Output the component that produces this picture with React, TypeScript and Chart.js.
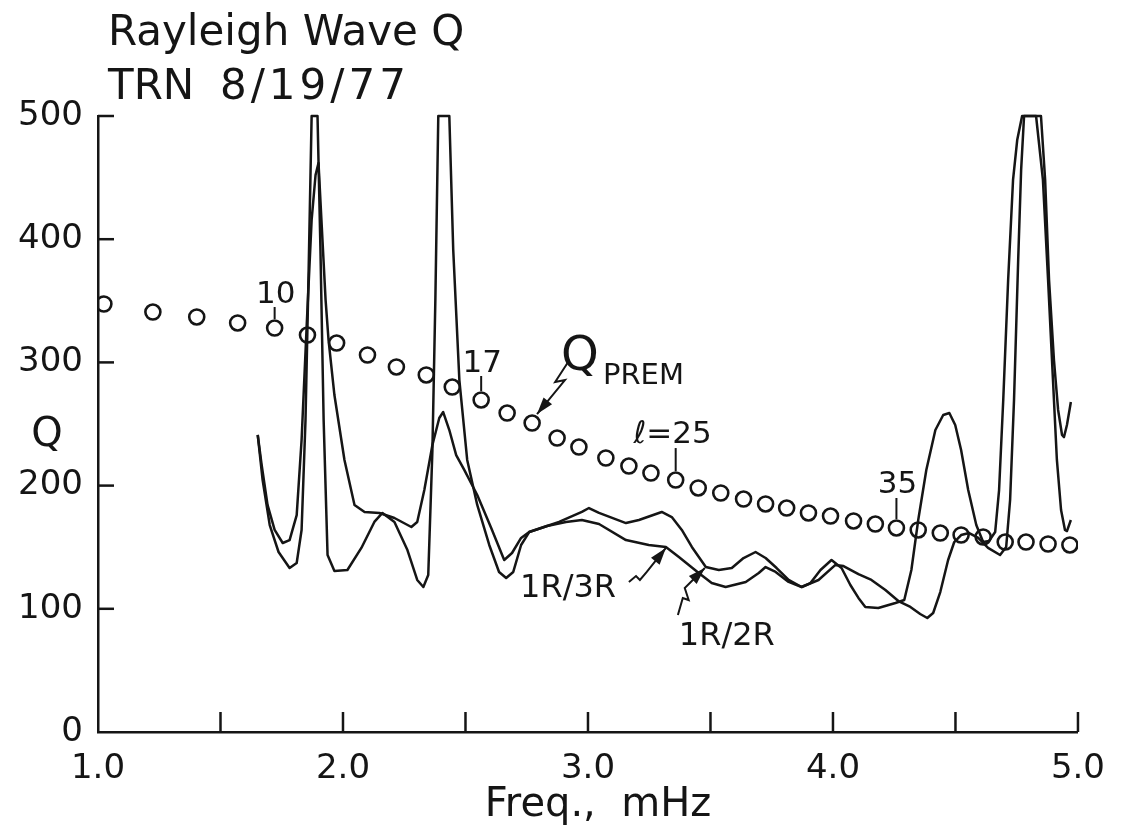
import React, { useEffect, useRef } from 'react';
import { Chart, registerables } from 'chart.js';

Chart.register(...registerables);

// ---------- data ----------
const premDegreeStart = 6;
const premFreq = [
  1.024, 1.224, 1.403, 1.570, 1.721, 1.855, 1.974, 2.100, 2.218, 2.340, 2.446, 2.564,
  2.670, 2.772, 2.874, 2.963, 3.073, 3.167, 3.257, 3.358, 3.450, 3.542, 3.635, 3.725,
  3.811, 3.900, 3.990, 4.084, 4.173, 4.259, 4.348, 4.438, 4.523, 4.613, 4.703, 4.788,
  4.878, 4.967,
];
const premQ = [
  347.4, 340.9, 336.9, 332.0, 327.9, 322.2, 315.7, 306.0, 296.3, 289.8, 280.0, 269.5,
  258.9, 250.8, 238.6, 231.3, 222.4, 215.9, 210.2, 204.5, 198.1, 194.0, 189.1, 185.1,
  181.8, 177.8, 175.3, 171.3, 168.8, 165.6, 164.0, 161.5, 159.9, 158.3, 154.2, 154.2,
  152.6, 151.8,
];

const curveAFreq = [
  1.652, 1.672, 1.701, 1.737, 1.782, 1.811, 1.831, 1.847, 1.859, 1.872, 1.896, 1.908,
  1.921, 1.937, 1.965, 2.018, 2.075, 2.128, 2.161, 2.210, 2.263, 2.303, 2.328, 2.348,
  2.365, 2.377, 2.389, 2.434, 2.450, 2.475, 2.507, 2.548, 2.597, 2.637, 2.666, 2.695,
  2.727, 2.760, 2.833, 2.910, 2.975, 3.045, 3.155, 3.248, 3.318, 3.371, 3.452, 3.505,
  3.562, 3.644, 3.697, 3.725, 3.766, 3.819, 3.872, 3.941, 4.010, 4.043, 4.104, 4.157,
  4.214, 4.267, 4.316, 4.356, 4.385, 4.409, 4.438, 4.470, 4.495, 4.523, 4.556, 4.593,
  4.633, 4.682, 4.707, 4.723, 4.739, 4.756, 4.768, 4.780, 4.829, 4.857, 4.878, 4.898,
  4.914, 4.931, 4.947, 4.955, 4.971,
];
const curveAQ = [
  241.1, 204.5, 168.0, 146.1, 133.1, 137.2, 164.0, 253.2, 366.9, 500, 500, 391.2,
  253.2, 143.7, 130.7, 131.5, 149.4, 170.5, 177.8, 170.5, 147.7, 123.4, 117.7, 127.4,
  228.9, 350.6, 500, 500, 391.2, 285.7, 220.8, 184.3, 151.8, 129.9, 125.0, 129.9,
  151.8, 162.3, 167.2, 170.5, 172.1, 168.8, 155.8, 151.8, 150.2, 142.0, 129.1, 120.9,
  117.7, 121.8, 129.1, 133.9, 129.9, 121.8, 117.7, 123.4, 135.6, 134.7, 128.2, 123.4,
  115.3, 106.3, 101.5, 95.8, 92.5, 96.6, 113.6, 139.6, 154.2, 159.9, 161.5, 157.5,
  149.4, 143.7, 150.2, 188.3, 269.5, 383.1, 456.2, 500, 500, 448.1, 366.9, 285.7,
  220.8, 180.2, 164.0, 163.1, 172.1,
];

const curveBFreq = [
  1.652, 1.668, 1.692, 1.721, 1.754, 1.782, 1.811, 1.831, 1.851, 1.872, 1.888, 1.900,
  1.912, 1.929, 1.941, 1.965, 2.006, 2.047, 2.088, 2.149, 2.210, 2.279, 2.303, 2.332,
  2.365, 2.393, 2.409, 2.434, 2.462, 2.495, 2.548, 2.605, 2.658, 2.690, 2.727, 2.760,
  2.882, 2.975, 3.004, 3.045, 3.155, 3.208, 3.301, 3.342, 3.383, 3.424, 3.481, 3.534,
  3.587, 3.635, 3.684, 3.725, 3.770, 3.819, 3.872, 3.908, 3.949, 3.994, 4.035, 4.071,
  4.104, 4.132, 4.185, 4.255, 4.291, 4.320, 4.348, 4.381, 4.418, 4.450, 4.475, 4.499,
  4.523, 4.552, 4.585, 4.613, 4.637, 4.662, 4.678, 4.695, 4.715, 4.735, 4.752, 4.772,
  4.849, 4.866, 4.882, 4.902, 4.919, 4.935, 4.943, 4.955, 4.971,
];
const curveBQ = [
  241.1, 216.7, 184.3, 164.0, 153.4, 155.8, 176.1, 237.0, 326.3, 415.6, 452.1, 461.9,
  415.6, 350.6, 318.2, 273.5, 220.8, 184.3, 178.6, 177.8, 173.7, 166.4, 170.5, 196.4,
  233.0, 254.9, 259.7, 245.1, 224.8, 212.7, 192.4, 165.6, 139.6, 145.3, 157.5, 162.3,
  170.5, 178.6, 181.8, 177.8, 169.6, 172.1, 178.6, 174.5, 164.0, 150.2, 133.9, 131.5,
  133.1, 141.2, 146.1, 141.2, 133.1, 123.4, 117.7, 120.9, 131.5, 139.6, 133.1, 119.3,
  108.8, 101.5, 100.6, 104.7, 107.1, 131.5, 172.1, 212.7, 245.1, 257.3, 258.9, 249.2,
  228.9, 196.4, 168.0, 154.2, 155.0, 162.3, 196.4, 269.5, 366.9, 448.1, 480.5, 500,
  500, 448.1, 366.9, 301.9, 261.4, 241.1, 239.4, 249.2, 267.9,
];

const xMin = 1.0;
const xMax = 5.0;
const xStep = 0.5;
const yMin = 0;
const yMax = 500;
const yStep = 100;

const titleLine1 = 'Rayleigh Wave Q';
const titleLine2a = 'TRN';
const titleLine2b = '8/19/77';
const xAxisTitle = 'Freq.,  mHz';
const yAxisTitle = 'Q';

const labeledDegrees = [10, 17, 25, 35];
const degreeTexts = ['10', '17', 'ℓ=25', '35'];

// annotation anchors (data coordinates)
const noteTexts = ['1R/3R', '1R/2R', 'Q', 'PREM'];
const noteFreq = [2.723, 3.371, 2.890, 3.061];
const noteQ = [109.6, 70.6, 293.8, 282.5];

const arrowPaths: number[][][] = [
  [[2.919, 300.3], [2.866, 284.1], [2.906, 285.7], [2.792, 258.1]],
  [[3.167, 121.8], [3.196, 126.6], [3.212, 123.4], [3.240, 129.9], [3.318, 149.4]],
  [[3.367, 95.0], [3.387, 108.8], [3.411, 107.1], [3.395, 116.9], [3.477, 133.1]],
];

// ---------- styles ----------
const INK = '#151515';
const FONT = '"DejaVu Sans", sans-serif';
const noteSizes = [32, 32, 48, 29];
const degreeTextLift = [25, 28, 37, 35];
const degreeTickTop = [21, 24, 32, 30];

const decorPlugin = {
  id: 'decor',
  afterDraw(chart: any) {
    const ctx = chart.ctx as CanvasRenderingContext2D;
    const xs = chart.scales.x;
    const ys = chart.scales.y;
    const area = chart.chartArea;
    ctx.save();
    ctx.strokeStyle = INK;
    ctx.fillStyle = INK;
    ctx.lineWidth = 2.5;
    ctx.lineCap = 'butt';

    // inward tick marks
    xs.ticks.forEach((t: any) => {
      if (t.value === xMin) return;
      const px = xs.getPixelForValue(t.value);
      ctx.beginPath();
      ctx.moveTo(px, area.bottom);
      ctx.lineTo(px, area.bottom - 20);
      ctx.stroke();
    });
    ys.ticks.forEach((t: any) => {
      if (t.value === yMin) return;
      const py = ys.getPixelForValue(t.value);
      ctx.beginPath();
      ctx.moveTo(area.left, py);
      ctx.lineTo(area.left + 16, py);
      ctx.stroke();
    });

    // titles
    ctx.textAlign = 'left';
    ctx.textBaseline = 'alphabetic';
    ctx.font = `42px ${FONT}`;
    ctx.fillText(titleLine1, 108, 45);
    ctx.fillText(titleLine2a, 108, 99);
    (ctx as any).letterSpacing = '4px';
    ctx.fillText(titleLine2b, 220, 99);
    (ctx as any).letterSpacing = '0px';

    ctx.font = `40px ${FONT}`;
    ctx.textAlign = 'center';
    ctx.fillText(xAxisTitle, 598, 816);
    ctx.fillText(yAxisTitle, 47, 446);

    // degree labels on PREM circles
    ctx.lineWidth = 2;
    labeledDegrees.forEach((l, i) => {
      const idx = l - premDegreeStart;
      const cx = xs.getPixelForValue(premFreq[idx]);
      const cy = ys.getPixelForValue(premQ[idx]);
      ctx.beginPath();
      ctx.moveTo(cx, cy - 9);
      ctx.lineTo(cx, cy - degreeTickTop[i]);
      ctx.stroke();
      ctx.font = `31px ${FONT}`;
      ctx.textBaseline = 'alphabetic';
      if (degreeTexts[i].startsWith('ℓ')) {
        ctx.textAlign = 'right';
        ctx.fillText(degreeTexts[i], cx + 36, cy - degreeTextLift[i]);
      } else {
        ctx.textAlign = 'center';
        ctx.fillText(degreeTexts[i], cx + 1, cy - degreeTextLift[i]);
      }
    });

    // free annotations
    ctx.textAlign = 'left';
    noteTexts.forEach((txt, i) => {
      ctx.font = `${noteSizes[i]}px ${FONT}`;
      ctx.fillText(txt, xs.getPixelForValue(noteFreq[i]), ys.getPixelForValue(noteQ[i]));
    });

    // arrows
    ctx.lineWidth = 2;
    ctx.lineJoin = 'miter';
    arrowPaths.forEach((path) => {
      const pts = path.map(([f, q]) => [xs.getPixelForValue(f), ys.getPixelForValue(q)]);
      ctx.beginPath();
      pts.forEach(([px, py], k) => (k === 0 ? ctx.moveTo(px, py) : ctx.lineTo(px, py)));
      ctx.stroke();
      const [tx, ty] = pts[pts.length - 1];
      const [sx, sy] = pts[pts.length - 2];
      const ang = Math.atan2(ty - sy, tx - sx);
      const len = 17;
      const half = 5.5;
      const bx = tx - len * Math.cos(ang);
      const by = ty - len * Math.sin(ang);
      ctx.beginPath();
      ctx.moveTo(tx, ty);
      ctx.lineTo(bx + half * Math.sin(ang), by - half * Math.cos(ang));
      ctx.lineTo(bx - half * Math.sin(ang), by + half * Math.cos(ang));
      ctx.closePath();
      ctx.fill();
    });

    ctx.restore();
  },
};

export default function App() {
  const canvasRef = useRef<HTMLCanvasElement | null>(null);

  useEffect(() => {
    if (!canvasRef.current) return;
    const toPts = (fs: number[], qs: number[]) => fs.map((f, i) => ({ x: f, y: qs[i] }));
    const chart = new Chart(canvasRef.current, {
      type: 'scatter',
      data: {
        datasets: [
          {
            label: 'Q PREM',
            data: toPts(premFreq, premQ),
            showLine: false,
            pointStyle: 'circle',
            pointRadius: 7.5,
            pointBorderWidth: 2.6,
            pointBorderColor: INK,
            pointBackgroundColor: 'rgba(255,255,255,0)',
            borderColor: INK,
            order: 0,
          },
          {
            label: 'curve A',
            data: toPts(curveAFreq, curveAQ),
            showLine: true,
            pointRadius: 0,
            borderColor: INK,
            borderWidth: 2.5,
            tension: 0,
            borderJoinStyle: 'round',
            clip: 6,
            order: 1,
          },
          {
            label: 'curve B',
            data: toPts(curveBFreq, curveBQ),
            showLine: true,
            pointRadius: 0,
            borderColor: INK,
            borderWidth: 2.5,
            tension: 0,
            borderJoinStyle: 'round',
            clip: 6,
            order: 2,
          },
        ],
      },
      options: {
        responsive: false,
        animation: false,
        devicePixelRatio: 1,
        layout: { padding: { top: 116, right: 41, left: 0, bottom: 0 } },
        plugins: {
          legend: { display: false },
          tooltip: { enabled: false },
          title: { display: false },
        },
        scales: {
          x: {
            type: 'linear',
            min: xMin,
            max: xMax,
            grid: { display: false, drawTicks: false },
            border: { display: true, color: INK, width: 2.5 },
            ticks: {
              stepSize: xStep,
              autoSkip: false,
              maxRotation: 0,
              padding: 17,
              color: INK,
              font: { family: FONT, size: 34 },
              callback: (v: any) => (Math.abs(v - Math.round(v)) < 1e-9 ? Number(v).toFixed(1) : ''),
            },
            afterFit: (s: any) => {
              s.height = 104;
            },
          },
          y: {
            type: 'linear',
            min: yMin,
            max: yMax,
            grid: { display: false, drawTicks: false },
            border: { display: true, color: INK, width: 2.5 },
            ticks: {
              stepSize: yStep,
              padding: 15,
              color: INK,
              font: { family: FONT, size: 34 },
              callback: (v: any) => String(v),
            },
            afterFit: (s: any) => {
              s.width = 98;
            },
          },
        },
      },
      plugins: [decorPlugin],
    } as any);
    return () => chart.destroy();
  }, []);

  return (
    <div style={{ position: 'absolute', left: 0, top: 0, width: 1122, height: 836, background: '#fff' }}>
      <canvas ref={canvasRef} width={1122} height={836} style={{ display: 'block' }} />
    </div>
  );
}
